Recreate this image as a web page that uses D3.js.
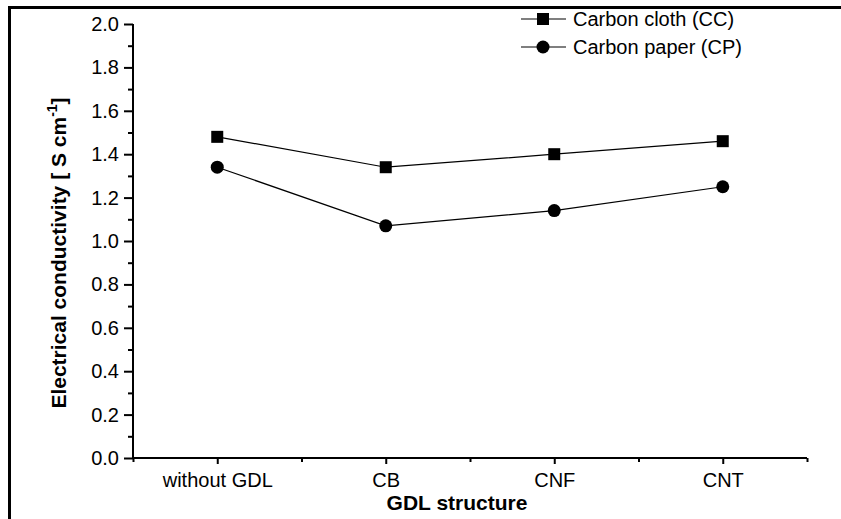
<!DOCTYPE html>
<html>
<head>
<meta charset="utf-8">
<script src="https://cdn.jsdelivr.net/npm/d3@7"></script>
<style>
  body { margin: 0; background: #fff; }
  svg { display: block; font-family: "Liberation Sans", Arial, sans-serif; }
</style>
</head>
<body>
<svg id="chart" width="841" height="519"></svg>
<script>
// data
var categories = ['without GDL', 'CB', 'CNF', 'CNT'];
var clothValues = [1.48, 1.34, 1.40, 1.46];
var paperValues = [1.34, 1.07, 1.14, 1.25];
var yMajorTicks = [0, 0.2, 0.4, 0.6, 0.8, 1.0, 1.2, 1.4, 1.6, 1.8, 2.0];
var yMinorTicks = [0.1, 0.3, 0.5, 0.7, 0.9, 1.1, 1.3, 1.5, 1.7, 1.9];
var xMinorTicks = [-0.5, 0.5, 1.5, 2.5, 3.5];

var svg = d3.select('#chart');

var plotLeft = 133, plotRight = 807, plotTop = 24, plotBottom = 458;

var x = d3.scaleLinear().domain([-0.5, 3.5]).range([plotLeft, plotRight]);
var y = d3.scaleLinear().domain([0, 2]).range([plotBottom, plotTop]);

// outer frame (only left and top edges fall inside the picture)
svg.append('rect')
    .attr('x', 9.5)
    .attr('y', 7.5)
    .attr('width', 900)
    .attr('height', 600)
    .style('fill', 'none')
    .style('stroke', '#000')
    .style('stroke-width', 3);

// y axis
var yAxis = svg.append('g')
    .attr('transform', 'translate(' + plotLeft + ',0)')
    .call(d3.axisLeft(y).tickValues(yMajorTicks).tickFormat(d3.format('.1f')).tickSize(9).tickPadding(5));
yAxis.select('.domain').attr('d', 'M0,' + plotTop + 'V' + plotBottom).style('stroke-width', 2);
yAxis.selectAll('.tick line').style('stroke-width', 2);
yAxis.selectAll('text').style('font-size', '20px').style('fill', '#000');

svg.append('g')
    .attr('transform', 'translate(' + plotLeft + ',0)')
    .call(d3.axisLeft(y).tickValues(yMinorTicks).tickFormat('').tickSize(5))
    .call(function (g) { g.select('.domain').remove(); })
    .selectAll('.tick line').style('stroke-width', 2);

// x axis
var xAxis = svg.append('g')
    .attr('transform', 'translate(0,' + plotBottom + ')')
    .call(d3.axisBottom(x).tickValues(d3.range(categories.length))
        .tickFormat(function (d) { return categories[d]; }).tickSize(6).tickPadding(9));
xAxis.select('.domain').attr('d', 'M' + plotLeft + ',0H' + plotRight).style('stroke-width', 2);
xAxis.selectAll('.tick line').style('stroke-width', 2);
xAxis.selectAll('text').style('font-size', '20px').style('fill', '#000');

svg.append('g')
    .attr('transform', 'translate(0,' + plotBottom + ')')
    .call(d3.axisBottom(x).tickValues(xMinorTicks).tickFormat('').tickSize(4))
    .call(function (g) { g.select('.domain').remove(); })
    .selectAll('.tick line').style('stroke-width', 2);

// axis titles
svg.append('text')
    .attr('x', 457)
    .attr('y', 510)
    .attr('text-anchor', 'middle')
    .style('font-size', '21px')
    .style('font-weight', 'bold')
    .text('GDL structure');

var yTitle = svg.append('text')
    .attr('transform', 'translate(66,253) rotate(-90)')
    .attr('text-anchor', 'middle')
    .style('font-size', '21px')
    .style('font-weight', 'bold');
yTitle.append('tspan').text('Electrical conductivity [ S cm');
yTitle.append('tspan').attr('dy', -9).style('font-size', '14px').text('-1');
yTitle.append('tspan').attr('dy', 9).text(']');

// series
var line = d3.line()
    .x(function (d, i) { return x(i); })
    .y(function (d) { return y(d); });

[clothValues, paperValues].forEach(function (vals) {
    svg.append('path')
        .datum(vals)
        .attr('d', line)
        .style('fill', 'none')
        .style('stroke', '#000')
        .style('stroke-width', 1.2);
});

svg.selectAll('.sq')
    .data(clothValues)
    .enter().append('rect')
    .attr('x', function (d, i) { return x(i) - 6; })
    .attr('y', function (d) { return y(d) - 6; })
    .attr('width', 12)
    .attr('height', 12)
    .style('fill', '#000');

svg.selectAll('.dot')
    .data(paperValues)
    .enter().append('circle')
    .attr('cx', function (d, i) { return x(i); })
    .attr('cy', function (d) { return y(d); })
    .attr('r', 6.5)
    .style('fill', '#000');

// legend
var legendY = [19, 47];
var legendNames = ['Carbon cloth (CC)', 'Carbon paper (CP)'];

legendY.forEach(function (ly, i) {
    svg.append('line')
        .attr('x1', 521).attr('x2', 566)
        .attr('y1', ly).attr('y2', ly)
        .style('stroke', '#000')
        .style('stroke-width', 1.2);
    svg.append('text')
        .attr('x', 573)
        .attr('y', ly)
        .attr('dy', '0.35em')
        .style('font-size', '20px')
        .text(legendNames[i]);
});

svg.append('rect')
    .attr('x', 537).attr('y', legendY[0] - 6)
    .attr('width', 12).attr('height', 12)
    .style('fill', '#000');

svg.append('circle')
    .attr('cx', 543).attr('cy', legendY[1])
    .attr('r', 6.5)
    .style('fill', '#000');
</script>
</body>
</html>
